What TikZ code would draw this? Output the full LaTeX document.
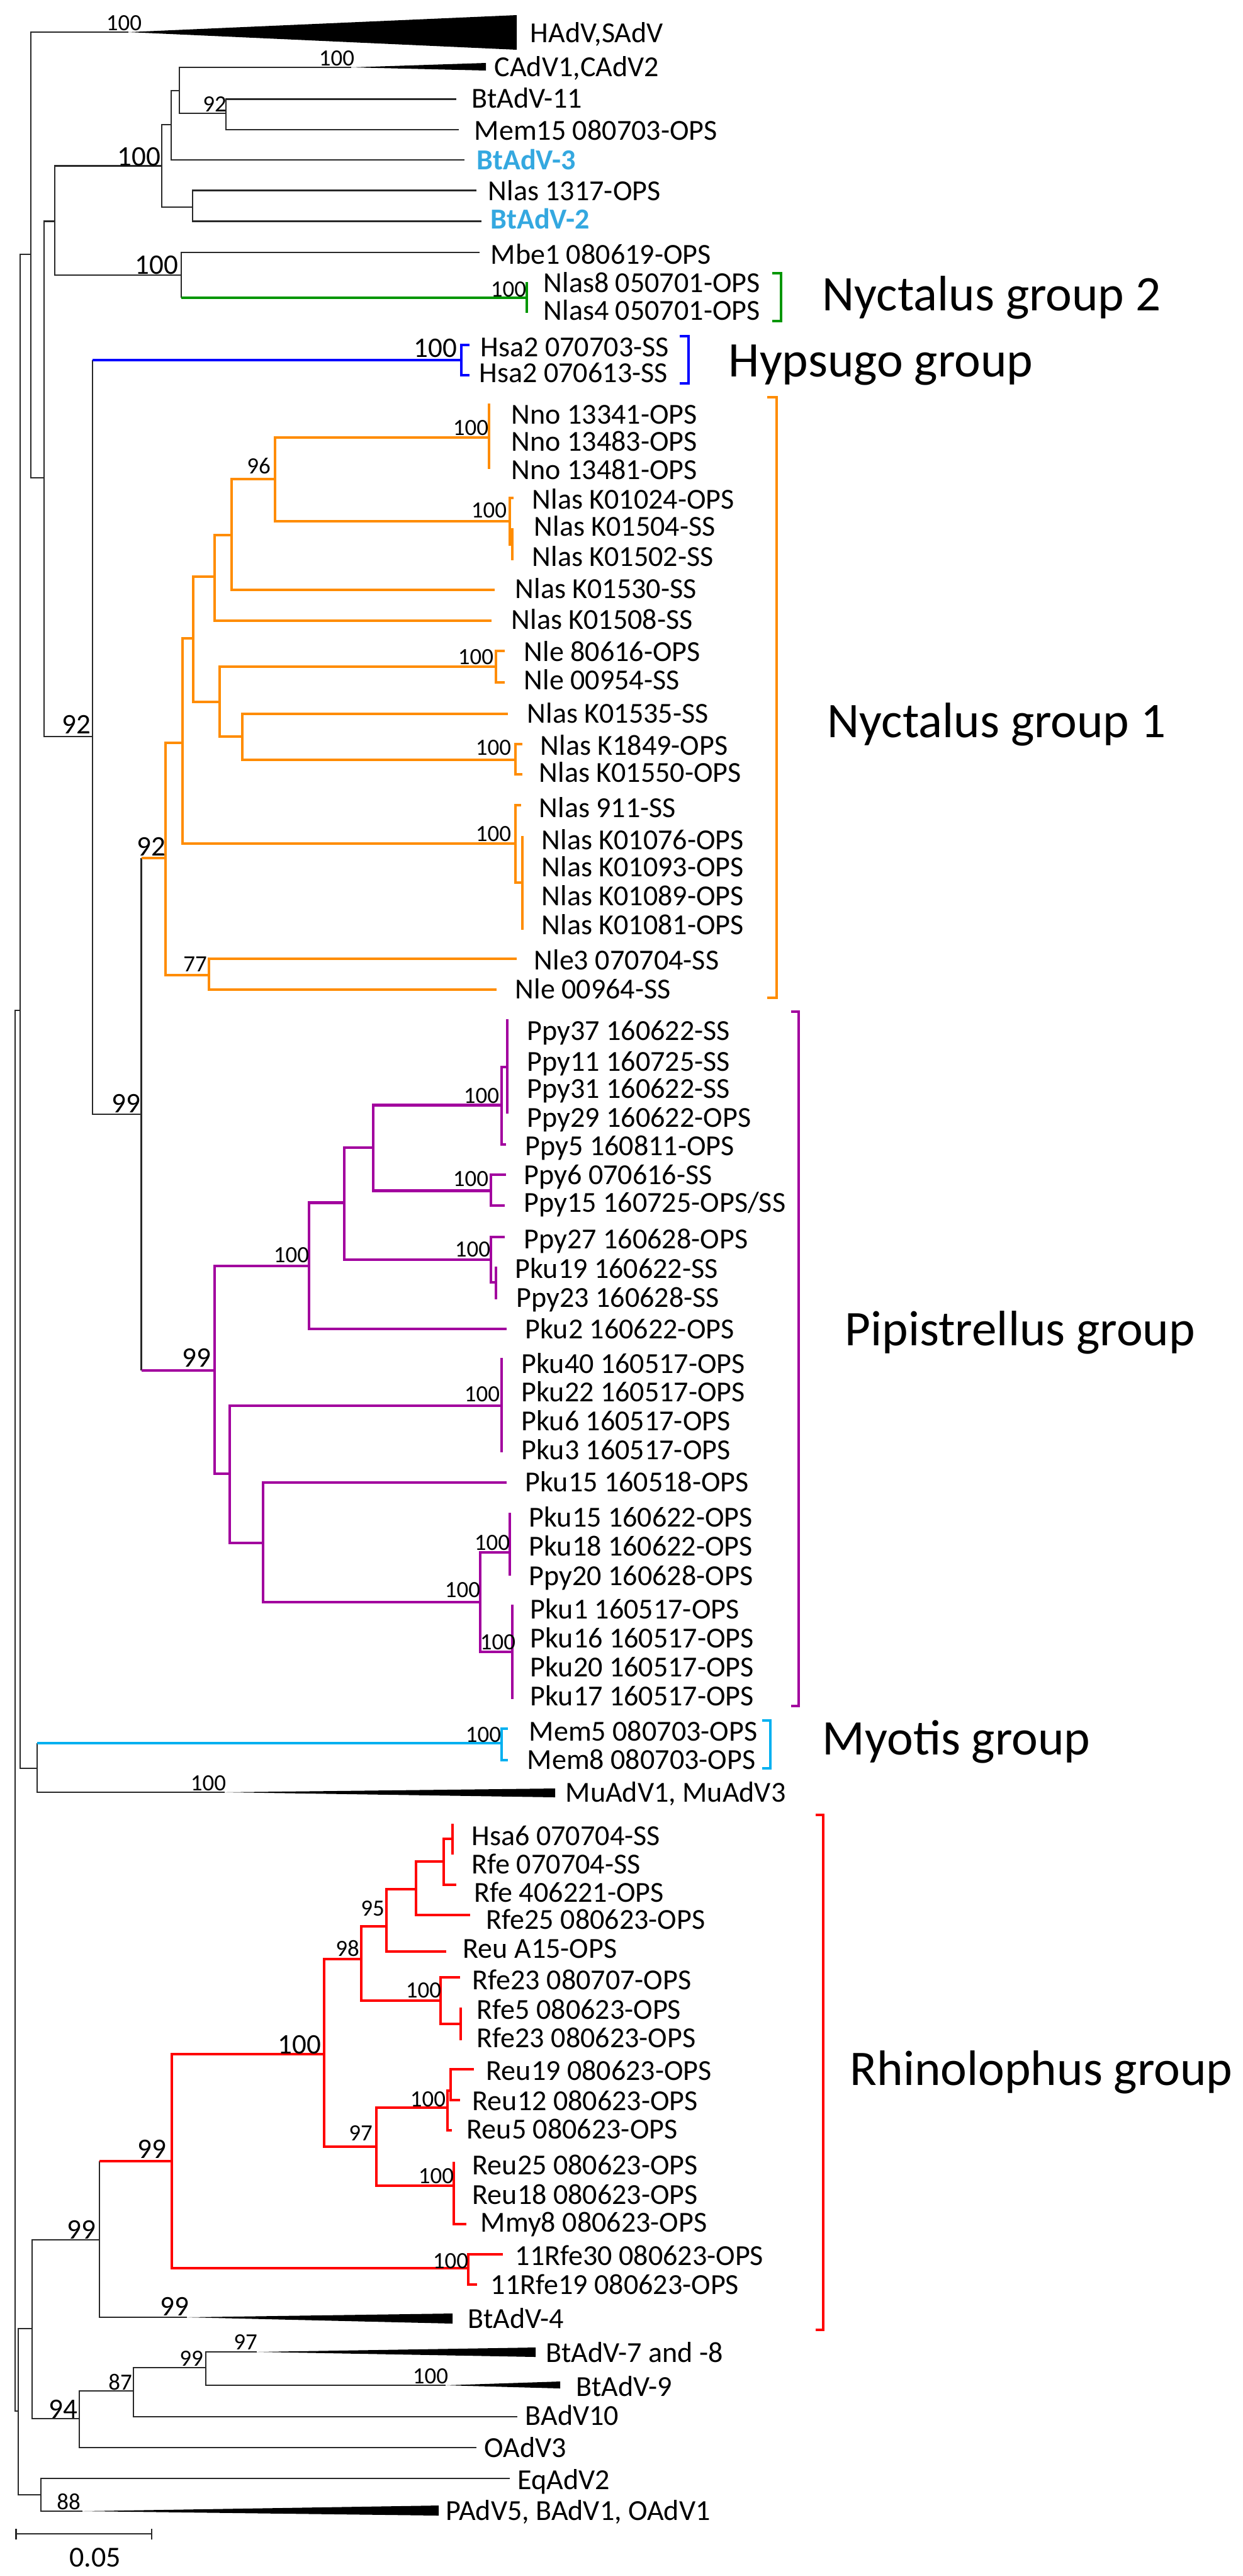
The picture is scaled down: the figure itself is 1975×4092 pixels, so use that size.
\documentclass[tikz,border=0pt]{standalone}
\usepackage{fontspec}
\setmainfont{Carlito}
\usetikzlibrary{positioning}
\definecolor{nycgreen}{RGB}{0,150,0}
\definecolor{hypblue}{RGB}{0,0,255}
\definecolor{nycorange}{RGB}{255,140,0}
\definecolor{pippurple}{RGB}{162,0,158}
\definecolor{myocyan}{RGB}{0,176,240}
\definecolor{rhired}{RGB}{255,0,0}
\definecolor{btblue}{RGB}{52,168,224}
\definecolor{treegray}{RGB}{40,40,40}

\begin{document}
\begin{tikzpicture}[x=0.01cm,y=-0.01cm,
  tree/.style={line width=0.75pt,treegray},
  clade/.style={line width=1.3pt},
  leaf/.style={anchor=base west,inner sep=0pt,yshift=-4.1pt,font=\fontsize{13.1}{15}\selectfont},
  boot/.style={anchor=base,inner sep=0pt,yshift=-3.3pt,font=\fontsize{10.5}{12}\selectfont},
  bigboot/.style={anchor=base,inner sep=0pt,yshift=-4pt,font=\fontsize{12.8}{14}\selectfont},
  group/.style={anchor=base west,inner sep=0pt,yshift=-7.1pt,font=\fontsize{22.5}{26}\selectfont}]

% page
\useasboundingbox (0,0) rectangle (1975,4092);
\fill[white] (0,0) rectangle (1975,4092);

% backbone
\draw[tree] (32,1605) -| (24,3830) -- (29,3830);
\draw[tree] (49,404) -| (32,2809) -- (59,2809);
\draw[tree] (204,51) -| (49,759) -- (70,759);
\draw[tree] (87,351.5) -| (70,1170) -- (147,1170);
\draw[tree] (257,263.6) -| (87,437) -- (288,437);
\draw[tree] (272,198) -| (257,329) -- (306,329);
\draw[tree] (285,144) -| (272,254) -- (738,254);
\draw[tree] (558,107) -| (285,180) -- (359,180);
\draw[tree] (725,157.5) -| (359,206) -- (729,206);
\draw[tree] (757,302.6) -| (306,351.5) -- (765,351.5);
\draw[tree] (762,401) -| (288,473);
\draw[tree] (147,572) -- (147,1770) -- (224.5,1770);
\draw[tree] (224.5,1363) -- (224.5,2177);
\draw[tree] (59,2769) -- (59,2847) -- (357,2847);
\draw[tree] (51,3699) -| (29,3963) -- (65,3963);
\draw[tree] (158,3558) -| (51,3842) -- (126,3842);
\draw[tree] (158,3433) -- (158,3681) -- (297,3681);
\draw[tree] (212,3798) -| (126,3888) -- (757,3888);
\draw[tree] (327,3761) -| (212,3839) -- (822,3839);
\draw[tree] (408,3736) -| (327,3789) -- (708,3789);
\draw[tree] (810,3937) -| (65,3989) -- (131,3989);

% collapsed clades
\fill (204,51) -- (821,24) -- (821,79) -- cycle;
\fill (558,107) -- (772,100) -- (772,112) -- cycle;
\fill (357,2847) -- (882,2841) -- (882,2855) -- cycle;
\fill (297,3681) -- (719,3675) -- (719,3691) -- cycle;
\fill (408,3736) -- (851,3729) -- (851,3744) -- cycle;
\fill (708,3789) -- (890,3783) -- (890,3794) -- cycle;
\fill (131,3989) -- (697,3980) -- (697,3996) -- cycle;

% Nyctalus group 2 and Hypsugo group
\draw[clade,nycgreen] (288,473) -- (837,473);
\draw[clade,nycgreen] (837,448) -- (837,497);
\draw[clade,hypblue] (147,572) -- (733,572);
\draw[clade,hypblue] (746,548) -| (733,596) -- (746,596);

% Nyctalus group 1
\begin{scope}[clade,nycorange]
\draw (224.5,1363) -- (263,1363);
\draw (290,1180) -| (263,1549) -- (332,1549);
\draw (821,1523) -| (332,1572) -- (789,1572);
\draw (307,1014) -| (290,1340) -- (819,1340);
\draw (341,916) -| (307,1115) -- (349,1115);
\draw (368,850) -| (341,986) -- (781,986);
\draw (437,761) -| (368,937) -- (786,937);
\draw (777,695) -| (437,828) -- (810,828);
\draw (777,641) -- (777,745);
\draw (816,791) -| (810,865) -- (814,865);
\draw (814,839) -- (814,890);
\draw (788,1059) -| (349,1170) -- (385,1170);
\draw (802,1034) -| (788,1084) -- (802,1084);
\draw (807,1134) -| (385,1207) -- (819,1207);
\draw (830,1182) -| (819,1230) -- (830,1230);
\draw (828,1279) -| (819,1402) -- (830,1402);
\draw (830,1328) -- (830,1477);
\end{scope}

% Pipistrellus group
\begin{scope}[clade,pippurple]
\draw (224.5,2177) -- (341,2177);
\draw (491,2011) -| (341,2341) -- (365,2341);
\draw (547,1910.5) -| (491,2111) -- (805,2111);
\draw (593,1823) -| (547,2001) -- (780,2001);
\draw (797,1755.5) -| (593,1891.6) -- (780,1891.6);
\draw (806,1695) -| (797,1818) -- (804,1818);
\draw (806,1619) -- (806,1769);
\draw (804,1866) -| (780,1915) -- (802,1915);
\draw (802,1965) -| (780,2037) -- (788,2037);
\draw (788,2012) -- (788,2064);
\draw (797,2233) -| (365,2451) -- (418,2451);
\draw (797,2157) -- (797,2307);
\draw (805,2355) -| (418,2545) -- (763,2545);
\draw (810,2466) -| (763,2624) -- (814,2624);
\draw (810,2403) -- (810,2503);
\draw (814,2549) -- (814,2699);
\end{scope}

% Myotis group
\draw[clade,myocyan] (59,2769) -- (797,2769);
\draw[clade,myocyan] (807,2746) -| (797,2796) -- (807,2796);

% Rhinolophus group
\begin{scope}[clade,rhired]
\draw (158,3433) -- (273,3433);
\draw (515,3263) -| (273,3603) -- (744,3603);
\draw (799,3581) -| (744,3629) -- (758,3629);
\draw (574,3112) -| (515,3410) -- (598,3410);
\draw (614,3060) -| (574,3178) -- (700,3178);
\draw (661,3001) -| (614,3100) -- (709,3100);
\draw (705,2957) -| (661,3042) -- (747,3042);
\draw (719,2921) -| (705,2994) -- (725,2994);
\draw (719,2897) -- (719,2946);
\draw (731,3141) -| (700,3215) -- (732,3215);
\draw (732,3189) -- (732,3241);
\draw (711,3348) -| (598,3472) -- (721,3472);
\draw (716,3321) -| (711,3384) -- (718,3384);
\draw (753,3287) -| (716,3336) -- (731,3336);
\draw (721,3434) -- (721,3533) -- (741,3533);
\end{scope}

% group brackets
\draw[clade,nycgreen] (1227,434) -| (1241,510) -- (1227,510);
\draw[clade,hypblue] (1080,534) -| (1094,609) -- (1080,609);
\draw[clade,nycorange] (1219,631) -| (1234,1585) -- (1219,1585);
\draw[clade,pippurple] (1257,1607) -| (1269,2710) -- (1257,2710);
\draw[clade,myocyan] (1211,2733) -| (1224,2809) -- (1211,2809);
\draw[clade,rhired] (1296,2883) -| (1308,3701) -- (1296,3701);

% leaf names
\foreach \x/\y/\t [count=\i] in {842/53/{HAdV,SAdV}, 785/107/{CAdV1,CAdV2},
  749/157.5/BtAdV-11, 753/208/Mem15 080703-OPS, 775/304/Nlas 1317-OPS,
  779/405/Mbe1 080619-OPS, 863/450/Nlas8 050701-OPS, 863/494/Nlas4 050701-OPS,
  763/552/Hsa2 070703-SS, 761/593/Hsa2 070613-SS}
  \node[leaf] (top\i) at (\x,\y) {\t};
\node[leaf,text=btblue,font=\fontsize{13.1}{15}\selectfont\bfseries] (bt3) at (757,255) {BtAdV-3};
\node[leaf,text=btblue,font=\fontsize{13.1}{15}\selectfont\bfseries] (bt2) at (779,349) {BtAdV-2};

\foreach \x/\y/\t [count=\i] in {812/659/Nno 13341-OPS, 812/702/Nno 13483-OPS,
  812/747/Nno 13481-OPS, 845/794/Nlas K01024-OPS, 848/837/Nlas K01504-SS,
  845/885/Nlas K01502-SS, 818/936/Nlas K01530-SS, 812/985/Nlas K01508-SS,
  832/1036/Nle 80616-OPS, 832/1081/Nle 00954-SS, 837/1134/Nlas K01535-SS,
  858/1185/Nlas K1849-OPS, 856/1228/Nlas K01550-OPS, 856/1284/Nlas 911-SS,
  860/1335/Nlas K01076-OPS, 860/1378/Nlas K01093-OPS, 860/1424/Nlas K01089-OPS,
  860/1470/Nlas K01081-OPS, 848/1526/Nle3 070704-SS, 818/1572/Nle 00964-SS}
  \node[leaf] (nyc\i) at (\x,\y) {\t};

\foreach \x/\y/\t [count=\i] in {837/1638/Ppy37 160622-SS, 837/1687/Ppy11 160725-SS,
  837/1730/Ppy31 160622-SS, 837/1776/Ppy29 160622-OPS, 834/1821/Ppy5 160811-OPS,
  832/1867/Ppy6 070616-SS, 832/1969/Ppy27 160628-OPS, 818/2016/Pku19 160622-SS,
  820/2062/Ppy23 160628-SS, 834/2112/Pku2 160622-OPS, 828/2167/Pku40 160517-OPS,
  828/2212/Pku22 160517-OPS, 828/2258/Pku6 160517-OPS, 828/2304/Pku3 160517-OPS,
  834/2355/Pku15 160518-OPS, 840/2411/Pku15 160622-OPS, 840/2457/Pku18 160622-OPS,
  840/2504/Ppy20 160628-OPS, 842/2557/Pku1 160517-OPS, 842/2603/Pku16 160517-OPS,
  842/2649/Pku20 160517-OPS, 842/2695/Pku17 160517-OPS}
  \node[leaf] (pip\i) at (\x,\y) {\t};
\node[leaf] (ppy15) at (832,1911) {Ppy15 160725-OPS/SS};

\node[leaf] (mem5) at (840,2751) {Mem5 080703-OPS};
\node[leaf] (mem8) at (837,2796) {Mem8 080703-OPS};
\node[leaf] (muadv) at (898,2848) {MuAdV1, MuAdV3};

\foreach \x/\y/\t [count=\i] in {749/2917/Hsa6 070704-SS, 749/2962/Rfe 070704-SS,
  753/3007/Rfe 406221-OPS, 772/3050/Rfe25 080623-OPS, 735/3096/Reu A15-OPS,
  750/3146/Rfe23 080707-OPS, 757/3193/Rfe5 080623-OPS, 757/3238/Rfe23 080623-OPS,
  772/3290/Reu19 080623-OPS, 750/3338/Reu12 080623-OPS, 741/3383/Reu5 080623-OPS,
  750/3440/Reu25 080623-OPS, 750/3487/Reu18 080623-OPS, 763/3531/Mmy8 080623-OPS,
  818/3584/11Rfe30 080623-OPS, 779/3630/11Rfe19 080623-OPS}
  \node[leaf] (rhi\i) at (\x,\y) {\t};

\foreach \x/\y/\t [count=\i] in {743/3684/BtAdV-4, 867/3738/BtAdV-7 and -8,
  915/3792/BtAdV-9, 834/3838/BAdV10, 769/3889/OAdV3, 822/3940/EqAdV2,
  708/3989/{PAdV5, BAdV1, OAdV1}}
  \node[leaf] (out\i) at (\x,\y) {\t};

% bootstrap values
\foreach \x/\y/\v [count=\i] in {197/37/100, 535/93/100, 341/166/92, 808/460/100,
  411/741/96, 748/680/100, 777/811/100, 756/1044/100, 784/1188/100, 784/1325/100,
  310/1532/77, 463/1994/100, 765/1741/100, 748/1873/100, 751/1985/100,
  766/2215/100, 782/2451/100, 735/2526/100, 791/2609/100, 768/2756/100,
  331/2833/100, 592/3032/95, 552/3096/98, 673/3162/100, 573/3389/97,
  680/3335/100, 693/3457/100, 716/3592/100, 390/3721/97, 304/3747/99,
  684/3775/100, 191/3785/87, 109/3975/88}
  \node[boot] (bs\i) at (\x,\y) {\v};
\foreach \x/\y/\v [count=\i] in {221/249/100, 249/421/100, 692/553/100,
  121/1151/92, 240/1345/92, 200/1753/99, 312/2157/99, 476/3248/100,
  241/3414/99, 129/3542/99, 277/3664/99, 100/3827/94}
  \node[bigboot] (bb\i) at (\x,\y) {\v};

% group names
\node[group] (ng2) at (1306,469) {Nyctalus group 2};
\node[group] (hyp) at (1157,574) {Hypsugo group};
\node[group] (ng1) at (1314,1147) {Nyctalus group 1};
\node[group] (pip) at (1342,2112) {Pipistrellus group};
\node[group] (myo) at (1306,2762) {Myotis group};
\node[group] (rhi) at (1350,3287) {Rhinolophus group};

% scale bar
\draw[tree] (25.5,4017) -- (25.5,4034);
\draw[tree] (25.5,4025) -- (241,4025);
\draw[tree] (241,4017) -- (241,4034);
\node[anchor=base,inner sep=0pt,yshift=-4.1pt,font=\fontsize{13.1}{15}\selectfont] (scale) at (151,4063) {0.05};

\end{tikzpicture}
\end{document}
